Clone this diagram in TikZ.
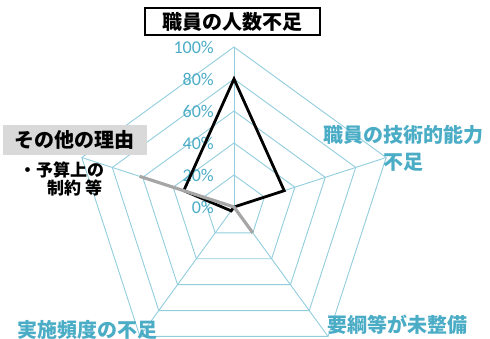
\documentclass[tikz,border=0pt]{standalone}
\usepackage{fontspec}
\usepackage{tikz}
\setmainfont{Carlito}
\newfontfamily\jpFont{Noto Sans CJK JP}
\usetikzlibrary{positioning}
\tikzstyle{chart} = [x = 1pt, y = 1pt]
\definecolor{gridColor}{RGB}{146,205,221}
\definecolor{labelColor}{RGB}{75,172,198}
\definecolor{seriesGray}{RGB}{166,166,166}
\definecolor{boxGray}{RGB}{217,217,217}
\tikzstyle{gridLine} = [color=gridColor, line width = .9pt]
\tikzstyle{percentText} = [color=labelColor, font=\fontsize{18}{18}\selectfont, anchor=east, inner sep=0pt]
\tikzstyle{categoryText} = [color=labelColor, font=\jpFont\bfseries\fontsize{20}{27}\selectfont, align=center, inner sep=0pt]
\tikzstyle{titleBox} = [draw=black, line width = 1.2pt, fill=white, font=\jpFont\bfseries\fontsize{20}{20}\selectfont, minimum width = 175pt, minimum height = 27pt, inner sep=0pt]
\tikzstyle{reasonBox} = [fill=boxGray, font=\jpFont\bfseries\fontsize{20}{20}\selectfont, minimum width = 144pt, minimum height = 30pt, inner sep=0pt]
\tikzstyle{noteText} = [font=\jpFont\bfseries\fontsize{17}{17}\selectfont, anchor=west, inner sep=0pt]
\tikzstyle{seriesBlack} = [color=black, line width = 2.8pt]
\tikzstyle{seriesGrayLine} = [color=seriesGray, line width = 3.2pt]
\newcommand{\unitRadius}{32}
\newcommand{\fullRadius}{160}
\newcommand{\gridRing}[1]{\draw [gridLine] (90:#1) -- (18:#1) -- (-54:#1) -- (-126:#1) -- (162:#1) -- cycle;}
\newcommand{\gridAxis}[1]{\draw [gridLine] (0,0) -- (#1:\fullRadius);}
\newcommand{\seriesPolygon}[6]{\draw [#1] (90:#2*\fullRadius) -- (18:#3*\fullRadius) -- (-54:#4*\fullRadius) -- (-126:#5*\fullRadius) -- (162:#6*\fullRadius) -- cycle;}

\begin{document}
\begin{tikzpicture}[chart]
          \useasboundingbox (-234,-132) rectangle (256,207);
          % grid
          \foreach \ring in {1,...,5} {
            \pgfmathsetmacro{\var}{\ring * \unitRadius}
            \gridRing{\var}
          }
          \foreach \angle in {90,18,-54,-126,162} {
            \gridAxis{\angle}
          }
          \foreach \step [evaluate=\step as \percent using int(20*\step)] in {0,...,5} {
            \node [percentText] (percent\step) at (-20, \step*\unitRadius) {\percent\%};
          }

          % data
          \seriesPolygon{seriesBlack}{0.8}{0.33}{0}{0.03}{0.33}
          \seriesPolygon{seriesGrayLine}{0}{0}{0.2}{0}{0.62}

          % labels
          \node [titleBox] (staffShortage) at (-1.5,185.5) {職員の人数不足};
          \node [categoryText] (skillShortage) at (169,58.5) {職員の技術的能力\\不足};
          \node [categoryText] (noGuideline) at (163.5,-118) {要綱等が未整備};
          \node [categoryText] (lowFrequency) at (-146.5,-123) {実施頻度の不足};
          \node [reasonBox] (otherReason) at (-159,67) {その他の理由};
          \node [noteText] (budgetLine) at (-215,37) {・予算上の};
          \node [noteText] (limitLine) at (-187,19) {制約 等};
        \end{tikzpicture}
\end{document}
